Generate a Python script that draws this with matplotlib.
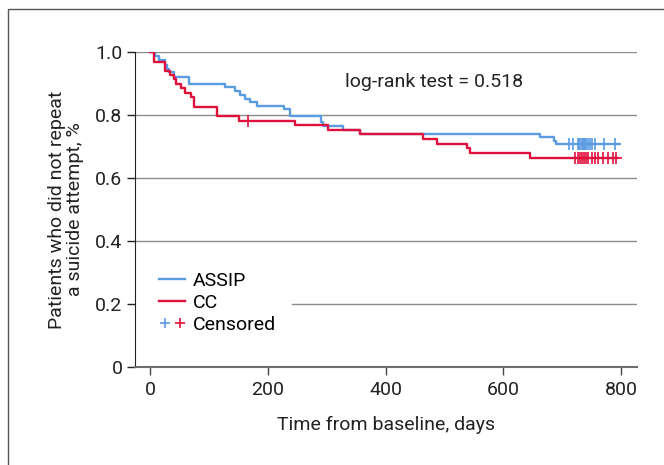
import matplotlib
matplotlib.use("Agg")
import matplotlib.pyplot as plt
from matplotlib.lines import Line2D
from matplotlib.legend_handler import HandlerTuple
from matplotlib.patches import Rectangle

plt.rcParams['font.family'] = ['Roboto', 'DejaVu Sans']

# ASSIP Kaplan-Meier steps (days, survival)
assip_t = [0, 8, 16, 25, 29, 33, 40, 67, 127, 144, 153, 162, 170, 181, 228, 237, 290, 293, 328, 357, 663, 686, 690, 797]
assip_s = [1.0, 0.988, 0.976, 0.960, 0.947, 0.935, 0.922, 0.900, 0.888, 0.876, 0.863, 0.851, 0.842, 0.830, 0.818, 0.798, 0.779, 0.765, 0.753, 0.741, 0.729, 0.718, 0.707, 0.707]
assip_cens_t = [711, 719, 727, 729, 731, 733, 735, 737, 739, 741, 744, 747, 750, 756, 771, 789]
assip_cens_s = [0.707] * len(assip_cens_t)

# CC Kaplan-Meier steps
cc_t = [0, 6, 25, 34, 40, 44, 52, 59, 70, 75, 114, 151, 247, 302, 356, 463, 488, 539, 543, 645, 793]
cc_s = [1.0, 0.969, 0.941, 0.927, 0.913, 0.899, 0.886, 0.871, 0.856, 0.824, 0.798, 0.781, 0.767, 0.752, 0.739, 0.724, 0.708, 0.694, 0.680, 0.664, 0.664]
cc_cens_t = [166, 722, 726, 730, 733, 737, 740, 744, 750, 756, 761, 770, 778, 787, 791]
cc_cens_s = [0.781] + [0.664] * 14

xticks = [0, 200, 400, 600, 800]
yticks = [0, 0.2, 0.4, 0.6, 0.8, 1.0]
yticklabels = ['0', '0.2', '0.4', '0.6', '0.8', '1.0']

blue = '#5a9be2'
red = '#e0103c'

fig = plt.figure(figsize=(6.64, 4.65), dpi=100)
ax = fig.add_axes([135/664, 1-367/465, (637-135)/664, (367-52)/465])

# figure border
fig.patches.append(Rectangle((8/664, -0.1), 1.2, 1 - 9.5/465 + 0.1, transform=fig.transFigure,
                             fill=False, edgecolor='#555555', linewidth=1.0))

for y in yticks[1:]:
    if y == 0.2:
        ax.axhline(y, xmin=(292-135)/502, color='#8c8c8c', lw=1.0, zorder=1)
    else:
        ax.axhline(y, color='#8c8c8c', lw=1.0, zorder=1)

ax.step(assip_t, assip_s, where='post', color=blue, lw=1.7, zorder=3)
ax.step(cc_t, cc_s, where='post', color=red, lw=1.7, zorder=4)
ax.plot(assip_cens_t, assip_cens_s, ls='none', marker='+', ms=8, mew=1.2, color=blue, zorder=3)
ax.plot(cc_cens_t, cc_cens_s, ls='none', marker='+', ms=8, mew=1.2, color=red, zorder=4)

ax.set_xlim(-25.5, 827)
ax.set_ylim(0, 1.0)
ax.set_xticks(xticks)
ax.set_yticks(yticks)
ax.set_yticklabels(yticklabels)
ax.tick_params(axis='both', labelsize=14, length=6, width=1, colors='#222222', pad=3)
ax.tick_params(axis='x', colors='#444444', labelcolor='#222222', pad=4)
for s in ['top', 'right']:
    ax.spines[s].set_visible(False)
ax.spines['left'].set_color('#222222')
ax.spines['bottom'].set_color('#6e6e6e')
ax.spines['bottom'].set_linewidth(1.5)

ax.set_xlabel('Time from baseline, days', fontsize=14, color='#222222', labelpad=12)
ax.set_ylabel('Patients who did not repeat\na suicide attempt, %', fontsize=14, color='#222222',
              labelpad=8, linespacing=1.0)

ax.text(331, 0.906, 'log-rank test = 0.518', fontsize=14, color='#222222', va='center', ha='left')

h1 = Line2D([], [], color=blue, lw=1.7)
h2 = Line2D([], [], color=red, lw=1.7)
hc1 = Line2D([], [], ls='none', marker='+', ms=7, mew=1.2, color=blue)
hc2 = Line2D([], [], ls='none', marker='+', ms=7, mew=1.2, color=red)
leg = ax.legend([h1, h2, (hc1, hc2)], ['ASSIP', 'CC', 'Censored'],
                handler_map={tuple: HandlerTuple(ndivide=None, pad=0.2)},
                loc='upper left', bbox_to_anchor=((159-135)/502, (367-271.5)/315), fontsize=14,
                frameon=False,
                handlelength=1.35, handletextpad=0.4, labelspacing=0.22,
                borderpad=0.0, borderaxespad=0.0)
leg.set_zorder(5)

fig.savefig('out.png', dpi=100)
